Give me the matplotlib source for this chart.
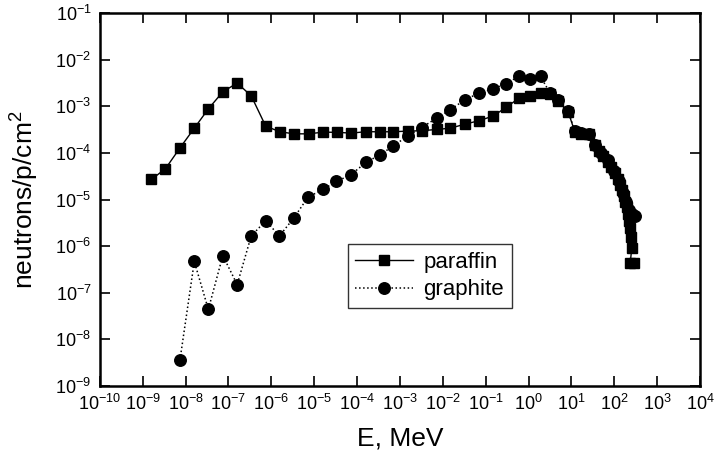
import matplotlib
matplotlib.use("Agg")
import matplotlib.pyplot as plt
import numpy as np

plt.rcParams['font.family'] = ['Liberation Sans', 'DejaVu Sans']
plt.rcParams['mathtext.fontset'] = 'custom'
plt.rcParams['mathtext.rm'] = 'Liberation Sans'
plt.rcParams['mathtext.it'] = 'Liberation Sans'
plt.rcParams['mathtext.bf'] = 'Liberation Sans:bold'
plt.rcParams['axes.unicode_minus'] = False

# paraffin data (E in MeV, flux)
paraffin_E = [1.6e-9, 3.4e-9, 7.4e-9, 1.6e-8, 3.4e-8, 7.4e-8, 1.6e-7, 3.4e-7, 7.4e-7,
              1.6e-6, 3.4e-6, 7.4e-6, 1.6e-5, 3.4e-5, 7.4e-5, 1.6e-4, 3.4e-4, 7.0e-4,
              1.55e-3, 3.3e-3, 7.2e-3, 0.015, 0.033, 0.069, 0.15, 0.30, 0.60, 1.08, 1.9,
              3.2, 4.9, 8.4, 12, 17, 26, 36, 45, 55, 70, 85, 105, 120, 135, 150, 165,
              180, 195, 210, 225, 235, 245, 255, 235, 285]
paraffin_F = [2.7e-5, 4.6e-5, 1.28e-4, 3.4e-4, 8.8e-4, 2.05e-3, 3.15e-3, 1.68e-3, 3.76e-4,
              2.84e-4, 2.57e-4, 2.57e-4, 2.79e-4, 2.77e-4, 2.66e-4, 2.86e-4, 2.84e-4, 2.85e-4,
              2.94e-4, 3.0e-4, 3.19e-4, 3.4e-4, 4.15e-4, 4.9e-4, 6.2e-4, 9.5e-4, 1.5e-3, 1.65e-3, 1.89e-3,
              1.83e-3, 1.31e-3, 7.6e-4, 2.84e-4, 2.6e-4, 2.6e-4, 1.5e-4, 1.1e-4, 8.5e-5, 6.5e-5, 5.0e-5,
              3.8e-5, 2.8e-5, 2.1e-5, 1.6e-5, 1.2e-5, 9.0e-6, 7.0e-6, 5.0e-6, 3.5e-6, 2.5e-6,
              1.6e-6, 9.0e-7, 4.3e-7, 4.3e-7]

# graphite data
graphite_E = [7.4e-9, 1.6e-8, 3.4e-8, 7.4e-8, 1.6e-7, 3.4e-7, 7.4e-7, 1.55e-6, 3.4e-6,
              7.2e-6, 1.6e-5, 3.3e-5, 7.2e-5, 1.6e-4, 3.4e-4, 7.0e-4, 1.55e-3, 3.2e-3,
              7.2e-3, 0.015, 0.033, 0.069, 0.15, 0.30, 0.60, 1.08, 1.9, 3.2, 4.9, 8.4,
              12, 17, 26, 36, 50, 70, 100, 130, 160, 190, 220, 260, 300]
graphite_F = [3.6e-9, 4.7e-7, 4.4e-8, 6.3e-7, 1.5e-7, 1.66e-6, 3.5e-6, 1.66e-6, 4.1e-6,
              1.13e-5, 1.65e-5, 2.45e-5, 3.4e-5, 6.25e-5, 9.1e-5, 1.41e-4, 2.35e-4, 3.49e-4,
              5.6e-4, 8.45e-4, 1.39e-3, 1.9e-3, 2.39e-3, 3.05e-3, 4.45e-3, 3.8e-3, 4.37e-3,
              1.9e-3, 1.35e-3, 8.0e-4, 2.9e-4, 2.7e-4, 2.5e-4, 1.5e-4, 1.0e-4, 7.0e-5, 4.2e-5,
              2.5e-5, 1.4e-5, 9.0e-6, 6.0e-6, 5.0e-6, 4.5e-6]

x_ticks = [10.0**k for k in range(-10, 5)]
y_ticks = [10.0**k for k in range(-9, 0)]
x_labels = [r'$\mathregular{10^{%d}}$' % k for k in range(-10, 5)]
y_labels = [r'$\mathregular{10^{%d}}$' % k for k in range(-9, 0)]

fig = plt.figure(figsize=(7.18, 4.51), dpi=100)
ax = fig.add_axes([0.139, 0.144, 0.836, 0.827])

ax.plot(paraffin_E, paraffin_F, '-', color='black', lw=1.0, marker='s', ms=7.5,
        label='paraffin')
ax.plot(graphite_E, graphite_F, ':', color='black', lw=1.1, marker='o', ms=8.3,
        label='graphite')

ax.set_xscale('log')
ax.set_yscale('log')
ax.set_xlim(1e-10, 1e4)
ax.set_ylim(1e-9, 1e-1)
ax.set_xticks(x_ticks)
ax.set_xticklabels(x_labels, fontsize=13)
ax.set_yticks(y_ticks)
ax.set_yticklabels(y_labels, fontsize=13)
ax.minorticks_off()
ax.tick_params(which='major', direction='in', length=7, width=1.2,
               top=True, right=True, labeltop=False, labelright=False, pad=6)
for s in ax.spines.values():
    s.set_linewidth(1.8)

ax.set_xlabel('E, MeV', fontsize=19, labelpad=9)
ax.set_ylabel(r'neutrons/p/cm$^\mathregular{2}$', fontsize=19, labelpad=10)

leg = ax.legend(loc='upper left', bbox_to_anchor=(0.413, 0.381), numpoints=1,
                fontsize=16, frameon=True, fancybox=False, edgecolor='black',
                handlelength=2.6, borderpad=0.35, labelspacing=0.3,
                handletextpad=0.45, borderaxespad=0.0)
leg.get_frame().set_linewidth(1.0)

fig.savefig('out.png', dpi=100)
